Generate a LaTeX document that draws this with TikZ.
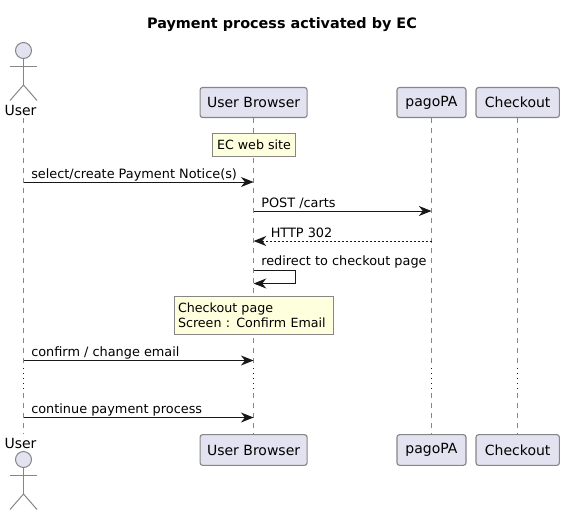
\documentclass[tikz,border=0pt]{standalone}
\usepackage{fontspec}
\setmainfont{DejaVu Sans}
\usetikzlibrary{arrows.meta}
\definecolor{partfill}{HTML}{E2E2F0}
\definecolor{notefill}{HTML}{FEFFDD}
\definecolor{edgegray}{HTML}{868686}
\definecolor{msgblack}{HTML}{181818}
\tikzset{
    partbox/.style={draw=edgegray, fill=partfill, line width=0.85pt, rounded corners=1.9pt,
        minimum height=22.5pt, inner sep=0pt, font=\fontsize{10.5}{12}\selectfont},
    notebox/.style={draw=edgegray, fill=notefill, line width=0.75pt, inner sep=0pt,
        align=left, font=\fontsize{9.5}{11.25}\selectfont},
    lifeline/.style={draw=edgegray, line width=0.75pt, dash pattern=on 3.75pt off 3.75pt},
    lifedots/.style={draw=msgblack, line width=0.75pt, dash pattern=on 0.75pt off 3pt},
    actorline/.style={draw=edgegray, line width=0.75pt},
    msg/.style={draw=msgblack, line width=0.75pt, -{Stealth[length=9.5pt, width=7.5pt, inset=3pt]}},
    msgreply/.style={msg, dash pattern=on 1.5pt off 1.5pt},
    msgtext/.style={anchor=base west, inner sep=0pt, yshift=2.9pt, font=\fontsize{9.65}{12}\selectfont},
}
\begin{document}
\begin{tikzpicture}[x=0.75pt, y=-0.75pt]
    \useasboundingbox (0,0) rectangle (564,515);
% Title
    \node[inner sep=0pt, anchor=base, font=\fontsize{10.8}{12}\selectfont\bfseries] (title) at (282,28) {Payment process activated by EC};
% Actors at the top and at the bottom
    \foreach \name/\ay in {userTop/50.5, userBot/459.5} {
        \node[circle, draw=edgegray, fill=partfill, line width=0.75pt, minimum size=12pt, inner sep=0pt] (\name Head) at (23.5,\ay) {};
        \coordinate (\name Arm) at (23.5,\ay+16);
        \coordinate (\name Hip) at (23.5,\ay+34.5);
        \draw[actorline] (\name Head.south) -- (\name Hip);
        \draw[actorline] (10,\ay+16) -- (37,\ay+16);
        \draw[actorline] (10,\ay+50) -- (\name Hip) -- (37,\ay+50);
    }
    \node[inner sep=0pt, anchor=base, font=\fontsize{10.5}{12}\selectfont] (userTopName) at (20.5,115) {User};
    \node[inner sep=0pt, anchor=base, font=\fontsize{10.5}{12}\selectfont] (userBotName) at (20.5,448) {User};
% Participants
    \node[partbox, minimum width=80.25pt] (browserTop) at (253.6,102.5) {User Browser};
    \node[partbox, minimum width=51.75pt] (pagoTop) at (431.5,102.5) {pagoPA};
    \node[partbox, minimum width=62.5pt] (checkoutTop) at (517.7,102.5) {Checkout};
    \node[partbox, minimum width=80.25pt, minimum height=23pt] (browserBot) at (253.6,450) {User Browser};
    \node[partbox, minimum width=51.75pt, minimum height=23pt] (pagoBot) at (431.5,450) {pagoPA};
    \node[partbox, minimum width=62.5pt, minimum height=23pt] (checkoutBot) at (517.7,450) {Checkout};
% Points on the lifelines
    \coordinate (userStart) at (23.5,118);
    \coordinate (userEnd) at (23.5,434);
    \coordinate (userDotA) at (23.5,368);
    \coordinate (userDotB) at (23.5,393);
    \coordinate (browserDotA) at (browserTop.south |- userDotA);
    \coordinate (browserDotB) at (browserTop.south |- userDotB);
    \coordinate (pagoDotA) at (pagoTop.south |- userDotA);
    \coordinate (pagoDotB) at (pagoTop.south |- userDotB);
    \coordinate (checkoutDotA) at (checkoutTop.south |- userDotA);
    \coordinate (checkoutDotB) at (checkoutTop.south |- userDotB);
% Lifelines
    \draw[lifeline] (userStart) -- (userDotA);
    \draw[lifedots] (userDotA) -- (userDotB);
    \draw[lifeline] (userDotB) -- (userEnd);
    \draw[lifeline] (browserTop.south) -- (browserDotA);
    \draw[lifedots] (browserDotA) -- (browserDotB);
    \draw[lifeline] (browserDotB) -- (browserBot.north);
    \draw[lifeline] (pagoTop.south) -- (pagoDotA);
    \draw[lifedots] (pagoDotA) -- (pagoDotB);
    \draw[lifeline] (pagoDotB) -- (pagoBot.north);
    \draw[lifeline] (checkoutTop.south) -- (checkoutDotA);
    \draw[lifedots] (checkoutDotA) -- (checkoutDotB);
    \draw[lifeline] (checkoutDotB) -- (checkoutBot.north);
% Notes
    \node[notebox, minimum width=62.25pt, minimum height=17.25pt] (noteSite) at (254,145) {EC web site};
    \node[notebox, minimum width=119.25pt, minimum height=28.5pt, inner xsep=2.6pt, text width=114pt] (noteEmail) at (254,315.5) {Checkout page\\Screen : Confirm Email};
% Messages
    \coordinate (userSelect) at (23.5,182);
    \coordinate (browserSelect) at (browserTop.south |- userSelect);
    \draw[msg] (userSelect) -- (browserSelect);
    \node[msgtext] (textSelect) at (31,182) {select/create Payment Notice(s)};
    \coordinate (browserPost) at (browserTop.south |- 0,211);
    \coordinate (pagoPost) at (pagoTop.south |- 0,211);
    \draw[msg] (browserPost) -- (pagoPost);
    \node[msgtext] (textPost) at (261,211) {POST /carts};
    \coordinate (pagoHttp) at (pagoTop.south |- 0,241);
    \coordinate (browserHttp) at (browserTop.south |- 0,241);
    \draw[msgreply] (pagoHttp) -- (browserHttp);
    \node[msgtext] (textHttp) at (270.5,241) {HTTP 302};
    \coordinate (browserOut) at (browserTop.south |- 0,270.5);
    \coordinate (browserBack) at (browserTop.south |- 0,283.5);
    \draw[msg] (browserOut) -- (295.5,270.5) -- (295.5,283.5) -- (browserBack);
    \node[msgtext, yshift=0.8pt] (textRedirect) at (261,270.5) {redirect to checkout page};
    \coordinate (userEmail) at (23.5,360.5);
    \coordinate (browserEmail) at (browserTop.south |- userEmail);
    \draw[msg] (userEmail) -- (browserEmail);
    \node[msgtext] (textEmail) at (31,360.5) {confirm / change email};
    \coordinate (userGo) at (23.5,417.5);
    \coordinate (browserGo) at (browserTop.south |- userGo);
    \draw[msg] (userGo) -- (browserGo);
    \node[msgtext] (textGo) at (31,417.5) {continue payment process};
\end{tikzpicture}
\end{document}
